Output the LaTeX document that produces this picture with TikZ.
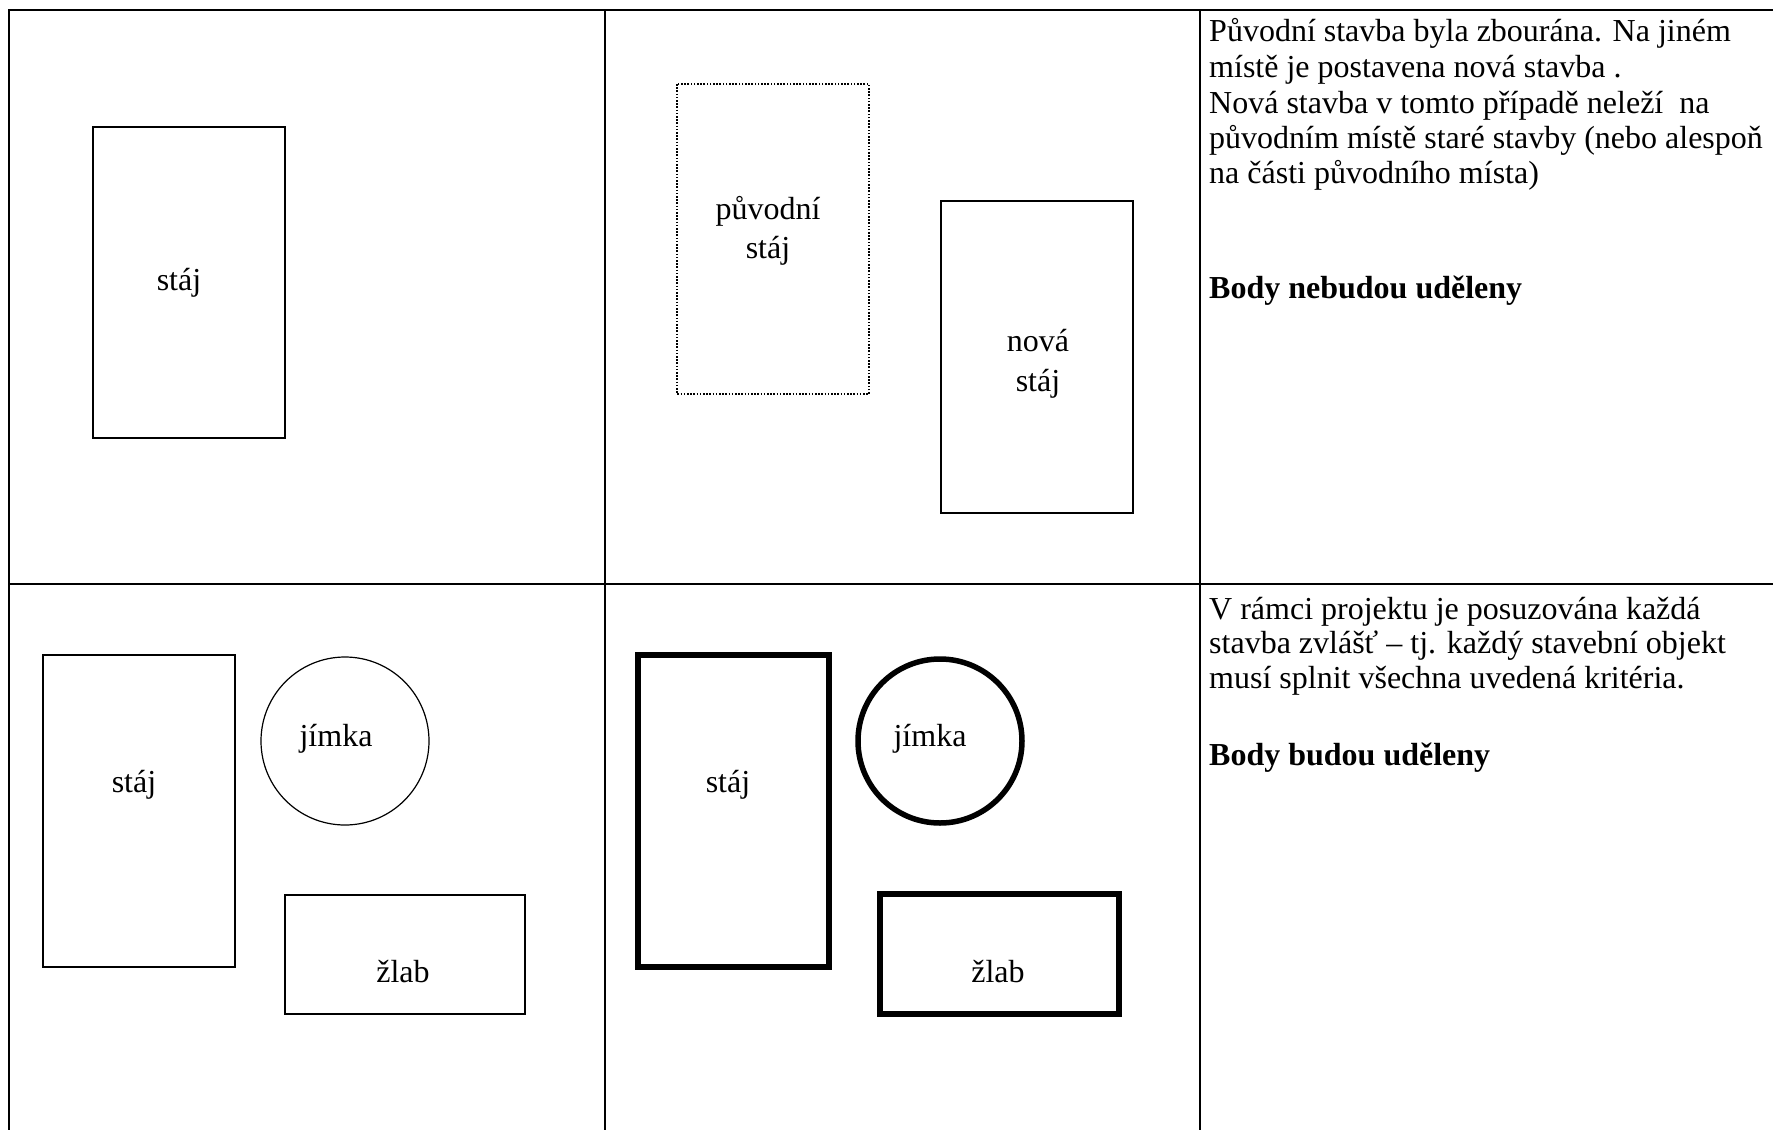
\documentclass[tikz,border=0pt]{standalone}
\usepackage{fontspec}
\setmainfont{Liberation Serif}
\begin{document}
\begin{tikzpicture}[x=1pt,y=-1pt,
  grid/.style={line width=2.2pt},
  thin shape/.style={line width=1.2pt},
  thick shape/.style={line width=5.5pt},
  dotted shape/.style={line width=1.6pt, dash pattern=on 1.6pt off 1.6pt},
  lbl/.style={inner sep=0pt, anchor=base, font=\fontsize{32}{36}\selectfont},
  txt/.style={inner sep=0pt, anchor=base west, font=\fontsize{32}{36}\selectfont}]
\useasboundingbox (0,0) rectangle (1773,1130);
% table grid
\draw[grid] (9,1130) -- (9,10) -- (1773,10);
\draw[grid] (9,584) -- (1773,584);
\draw[grid] (605,10) -- (605,1130);
\draw[grid] (1200,10) -- (1200,1130);
% top row, first cell
\draw[thin shape] (93,127) rectangle (285,438);
\node[lbl] (t1) at (179,290) {stáj};
% top row, second cell
\draw[dotted shape] (677,84) rectangle (869,394);
\node[lbl] (t2a) at (768,219) {původní};
\node[lbl] (t2b) at (768,258) {stáj};
\draw[thin shape] (941,201) rectangle (1133,513);
\node[lbl] (t3a) at (1038,351) {nová};
\node[lbl] (t3b) at (1038,391) {stáj};
% top row, text cell
\node[txt] (p1) at (1209,41) {Původní stavba byla zbourána. Na jiném};
\node[txt] (p2) at (1209,77.5) {místě je postavena nová stavba .};
\node[txt] (p3) at (1209,113) {Nová stavba v tomto případě neleží \ na};
\node[txt] (p4) at (1209,148.5) {původním místě staré stavby (nebo alespoň};
\node[txt] (p5) at (1209,183) {na části původního místa)};
\node[txt, font=\fontsize{32}{36}\selectfont\bfseries] (p6) at (1209,298) {Body nebudou uděleny};
% bottom row, first cell
\draw[thin shape] (43,655) rectangle (235,967);
\node[lbl] (b1) at (134,792) {stáj};
\draw[thin shape] (345,741) circle[radius=84];
\node[lbl] (b2) at (336,746) {jímka};
\draw[thin shape] (285,895) rectangle (525,1014);
\node[lbl] (b3) at (403,982) {žlab};
% bottom row, second cell
\draw[thick shape] (638,655) rectangle (829,967);
\node[lbl] (c1) at (728,792) {stáj};
\draw[thick shape] (940,741) circle[radius=82];
\node[lbl] (c2) at (930,746) {jímka};
\draw[thick shape] (880,894) rectangle (1119,1014);
\node[lbl] (c3) at (998,982) {žlab};
% bottom row, text cell
\node[txt] (q1) at (1209,619) {V rámci projektu je posuzována každá};
\node[txt] (q2) at (1209,653) {stavba zvlášť – tj. každý stavební objekt};
\node[txt] (q3) at (1209,688) {musí splnit všechna uvedená kritéria.};
\node[txt, font=\fontsize{32}{36}\selectfont\bfseries] (q4) at (1209,765) {Body budou uděleny};
\end{tikzpicture}
\end{document}
